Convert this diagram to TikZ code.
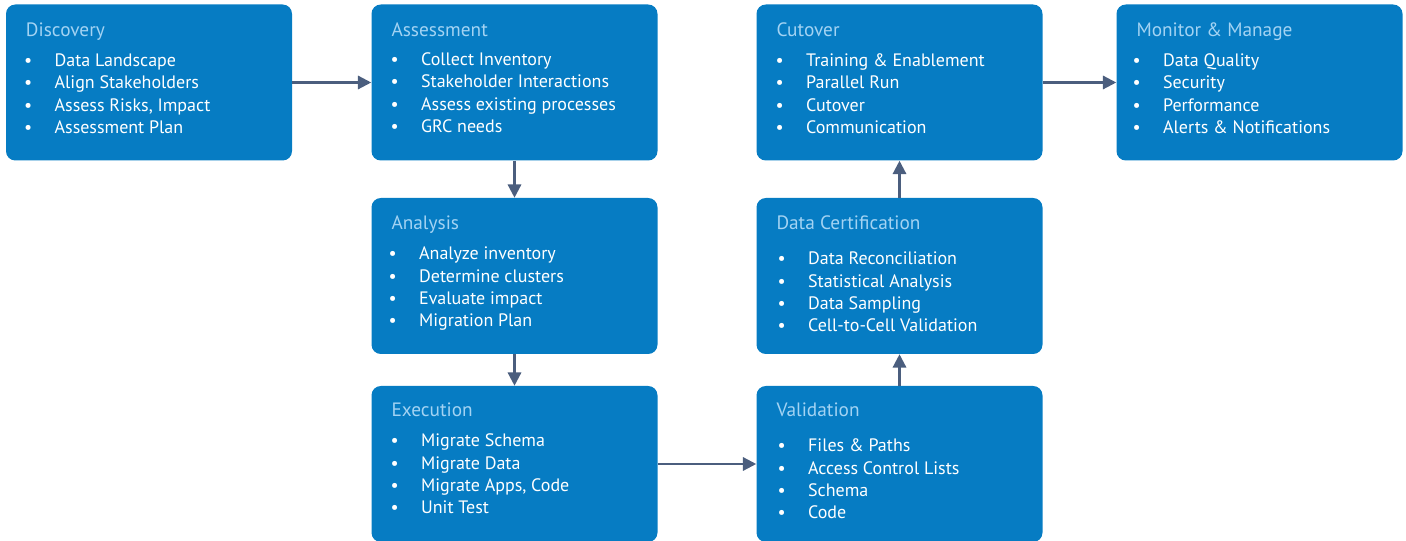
\documentclass[tikz,border=0pt]{standalone}
\usepackage{fontspec}
\setmainfont{PT Sans}
\usepackage{xcolor}
\usetikzlibrary{calc}
\usetikzlibrary{arrows.meta}

\definecolor{stageblue}{HTML}{067CC3}
\definecolor{titleblue}{HTML}{A3D3F3}
\definecolor{flowgray}{HTML}{4B5E7E}

\newcommand{\itemlist}[1]{%
  \renewcommand{\arraystretch}{1}%
  \begin{tabular}[t]{@{}p{23pt}@{}l@{}}#1\end{tabular}}

\begin{document}
\begin{tikzpicture}[x=0.75pt, y=-0.75pt]

\tikzset{
    box/.style = {
    minimum width = 214.5pt,
    minimum height = 117pt,
    rounded corners = 7pt
    }
}

\tikzstyle{stage}=[fill=stageblue, inner sep=0pt, box]
\tikzstyle{stagetitle}=[anchor=base west, inner sep=0pt, text=titleblue, font=\fontsize{14.5}{17}\selectfont]
\tikzstyle{stageitems}=[anchor=base west, inner sep=0pt, text=white, font=\fontsize{13.5}{16.8}\selectfont]
\tikzstyle{flow}=[draw=flowgray, line width=1.7pt, -{Triangle[length=10pt, width=10pt]}]

\useasboundingbox (0,0) rectangle (1406,541);

% top row
\node (disc) [stage] at (149,82.5) {};
\node (assess) [stage] at (514.5,82.5) {};
\node (cutover) [stage] at (899.5,82.5) {};
\node (monitor) [stage] at (1259.5,82.5) {};
% middle and bottom
\node (analysis) [stage] at (514.5,276) {};
\node (cert) [stage] at (899.5,276) {};
\node (exec) [stage] at (514.5,464) {};
\node (valid) [stage] at (899.5,464) {};

\node (disc-t) [stagetitle] at ([shift={(20,32)}]disc.north west) {Discovery};
\node (disc-l) [stageitems] at ([shift={(18,62)}]disc.north west) {\itemlist{
  \textbullet & Data Landscape \\
  \textbullet & Align Stakeholders \\
  \textbullet & Assess Risks, Impact \\
  \textbullet & Assessment Plan}};

\node (assess-t) [stagetitle] at ([shift={(20,32)}]assess.north west) {Assessment};
\node (assess-l) [stageitems] at ([shift={(19,61)}]assess.north west) {\itemlist{
  \textbullet & Collect Inventory \\
  \textbullet & Stakeholder Interactions \\
  \textbullet & Assess existing processes \\
  \textbullet & GRC needs}};

\node (cutover-t) [stagetitle] at ([shift={(20,32)}]cutover.north west) {Cutover};
\node (cutover-l) [stageitems] at ([shift={(19,62)}]cutover.north west) {\itemlist{
  \textbullet & Training \& Enablement \\
  \textbullet & Parallel Run \\
  \textbullet & Cutover \\
  \textbullet & Communication}};

\node (monitor-t) [stagetitle] at ([shift={(20,32)}]monitor.north west) {Monitor \& Manage};
\node (monitor-l) [stageitems] at ([shift={(16,62)}]monitor.north west) {\itemlist{
  \textbullet & Data Quality \\
  \textbullet & Security \\
  \textbullet & Performance \\
  \textbullet & Alerts \& Notifications}};

\node (analysis-t) [stagetitle] at ([shift={(20,32)}]analysis.north west) {Analysis};
\node (analysis-l) [stageitems] at ([shift={(17,62)}]analysis.north west) {\itemlist{
  \textbullet & Analyze inventory \\
  \textbullet & Determine clusters \\
  \textbullet & Evaluate impact \\
  \textbullet & Migration Plan}};

\node (cert-t) [stagetitle] at ([shift={(20,32)}]cert.north west) {Data Certification};
\node (cert-l) [stageitems] at ([shift={(21,67)}]cert.north west) {\itemlist{
  \textbullet & Data Reconciliation \\
  \textbullet & Statistical Analysis \\
  \textbullet & Data Sampling \\
  \textbullet & Cell-to-Cell Validation}};

\node (exec-t) [stagetitle] at ([shift={(20,31)}]exec.north west) {Execution};
\node (exec-l) [stageitems] at ([shift={(19,61)}]exec.north west) {\itemlist{
  \textbullet & Migrate Schema \\
  \textbullet & Migrate Data \\
  \textbullet & Migrate Apps, Code \\
  \textbullet & Unit Test}};

\node (valid-t) [stagetitle] at ([shift={(20,31)}]valid.north west) {Validation};
\node (valid-l) [stageitems] at ([shift={(21,66)}]valid.north west) {\itemlist{
  \textbullet & Files \& Paths \\
  \textbullet & Access Control Lists \\
  \textbullet & Schema \\
  \textbullet & Code}};

% connectors
\draw [flow] (disc) -- (assess);
\draw [flow] (assess) -- (analysis);
\draw [flow] (analysis) -- (exec);
\draw [flow] (exec) -- (valid);
\draw [flow] (valid) -- (cert);
\draw [flow] (cert) -- (cutover);
\draw [flow] (cutover) -- (monitor);

\end{tikzpicture}
\end{document}
